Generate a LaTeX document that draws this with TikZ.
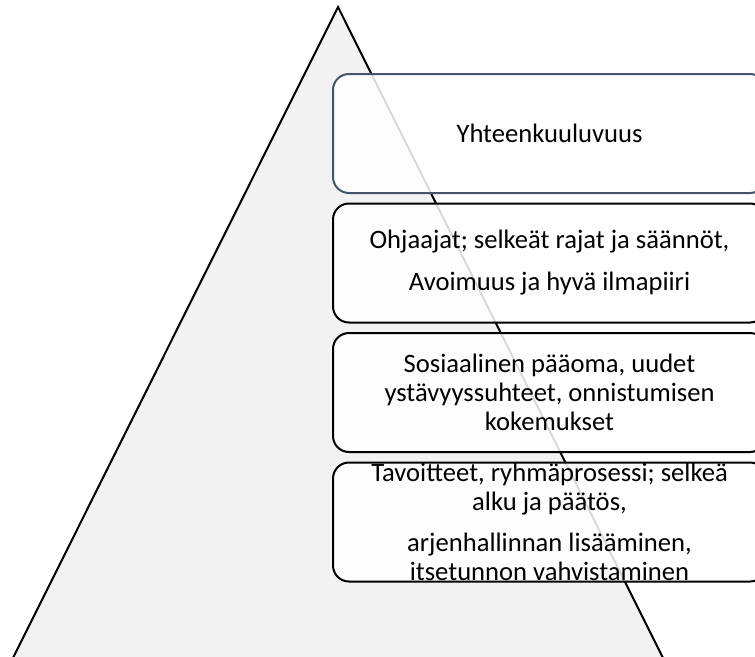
\documentclass[tikz,border=0pt]{standalone}
\usepackage{fontspec}
\setmainfont{Carlito}
\usepackage{tikz}
\usetikzlibrary{positioning}
\definecolor{slateblue}{RGB}{68,84,106}
\definecolor{pyramidgray}{RGB}{242,242,242}

\begin{document}
\begin{tikzpicture}[
		x=1pt, y=-1pt,
		stagenode/.style={rectangle, rounded corners=16pt, draw=black, line width=2pt, fill=white, fill opacity=0.85, text opacity=1, minimum width=433pt, minimum height=119pt, inner sep=0pt, outer sep=0pt, align=center, font=\fontsize{26.6pt}{29pt}\selectfont},
	]
		\useasboundingbox (0,0) rectangle (755,656);
		\clip (0,0) rectangle (755,656);

		%Pyramid
		\draw[line width=2pt, fill=pyramidgray] (338,7) -- (-8,700) -- (684,700) -- cycle;

		%Nodes
		\node (cohesion) [stagenode, draw=slateblue] at (549.5,133.5) {Yhteenkuuluvuus};
		\node (leaders) [stagenode, below=10.5pt of cohesion] {Ohjaajat; selkeät rajat ja säännöt,\\[13pt] Avoimuus ja hyvä ilmapiiri};
		\node (capital) [stagenode, below=10.5pt of leaders] {Sosiaalinen pääoma, uudet\\ ystävyyssuhteet, onnistumisen\\ kokemukset};
		\node (goals) [stagenode, below=10.5pt of capital] {Tavoitteet, ryhmäprosessi; selkeä\\ alku ja päätös,\\[12pt] arjenhallinnan lisääminen,\\ itsetunnon vahvistaminen};
	\end{tikzpicture}
\end{document}
